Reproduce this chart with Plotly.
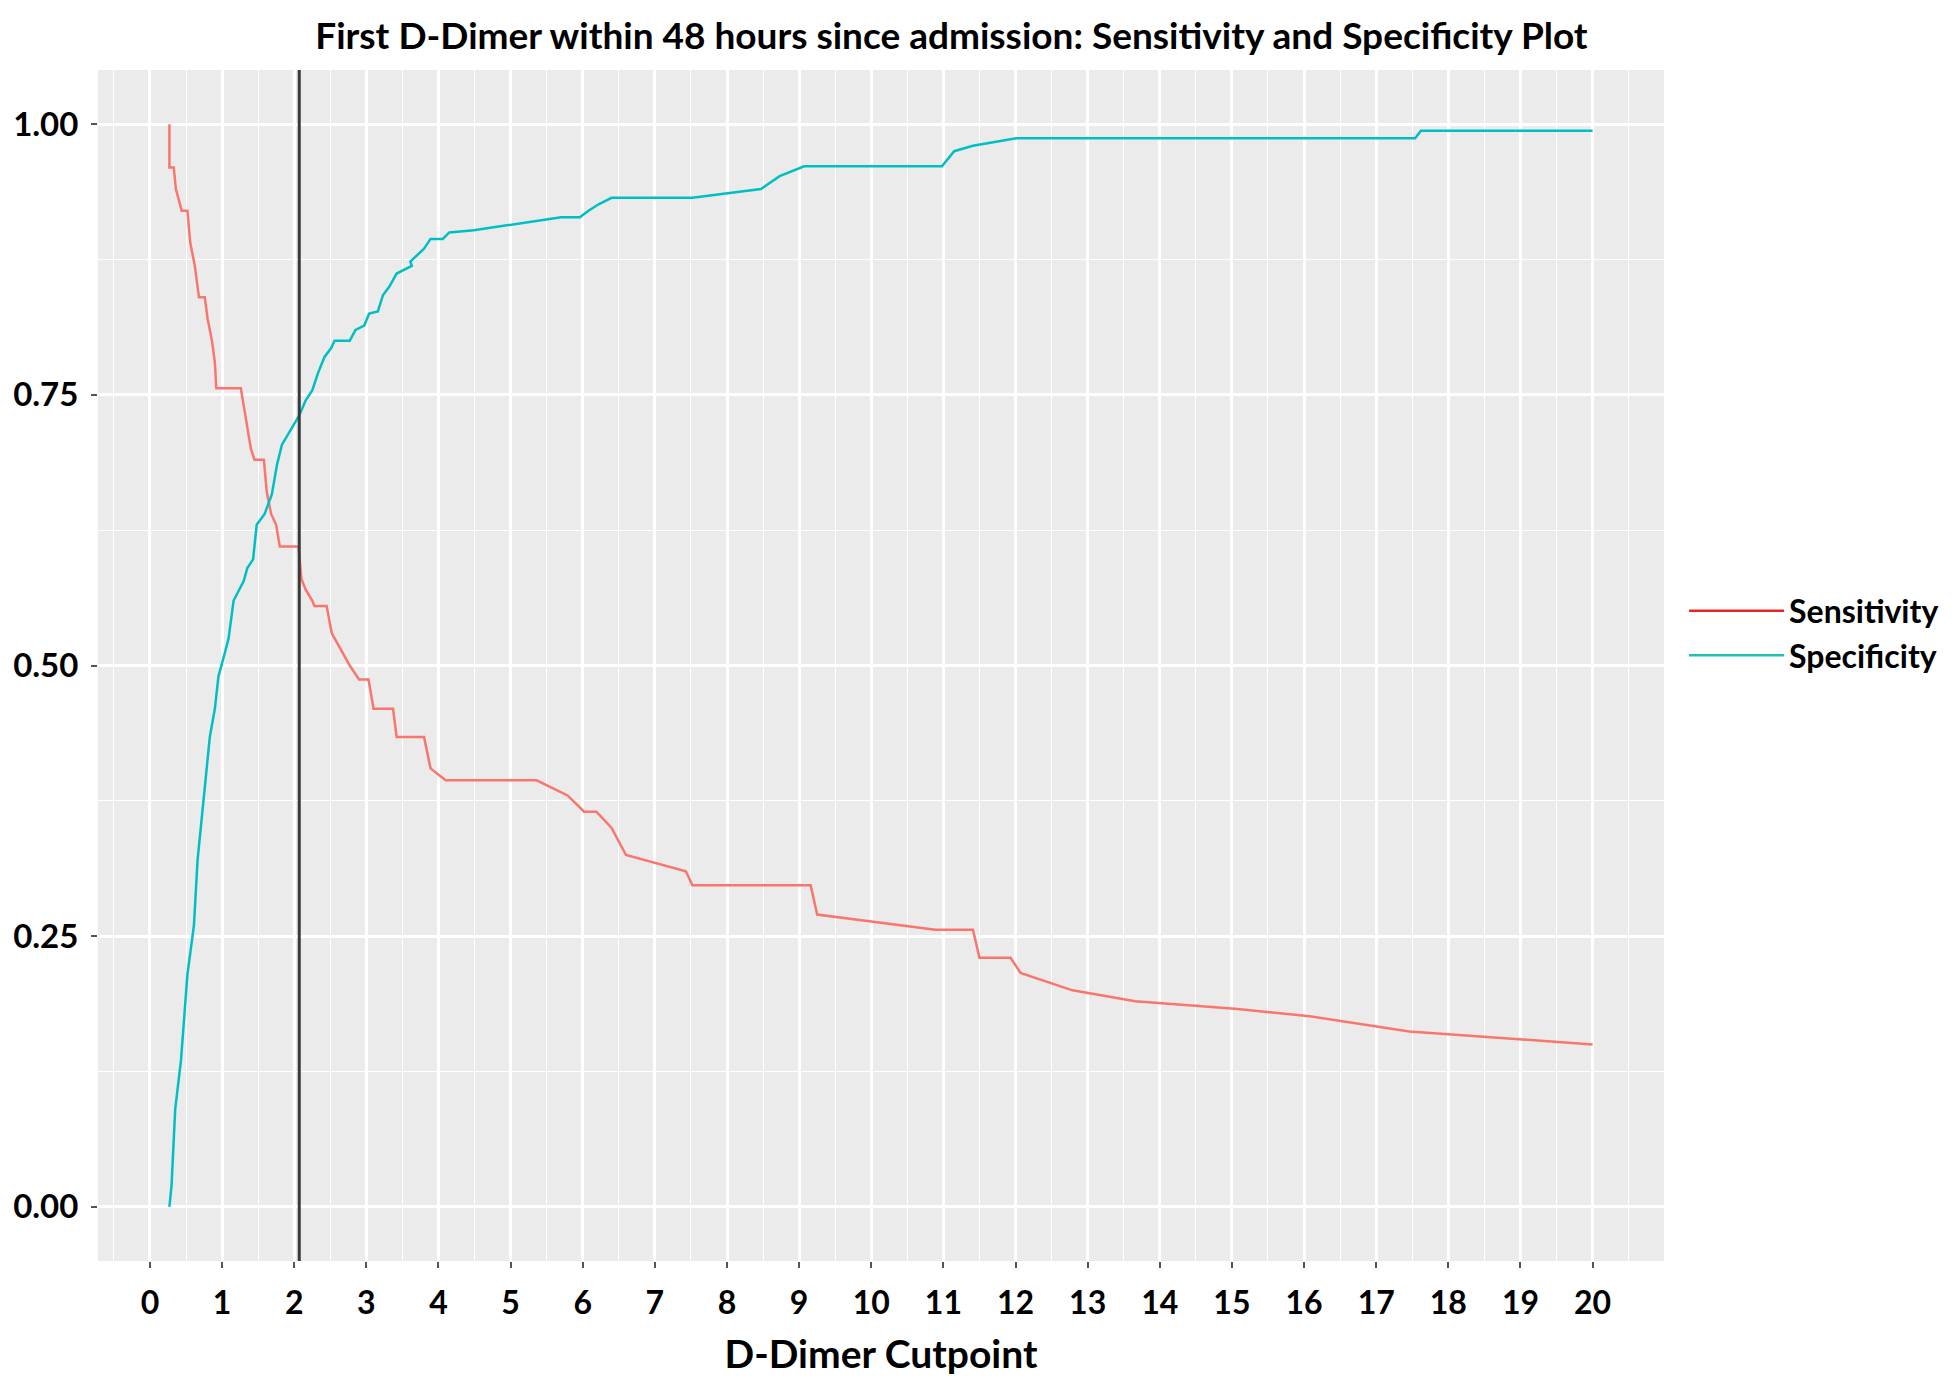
import plotly.graph_objects as go

# values
sens_x = [0.27, 0.27, 0.33, 0.36, 0.40, 0.44, 0.52, 0.56, 0.62, 0.68, 0.76, 0.80, 0.86, 0.90, 0.92,
          1.26, 1.30, 1.35, 1.40, 1.45, 1.58, 1.62, 1.68, 1.75, 1.80, 2.06, 2.10, 2.16, 2.25, 2.28,
          2.45, 2.52, 2.68, 2.77, 2.90, 3.03, 3.10, 3.37, 3.42, 3.80, 3.89, 4.10, 5.36, 5.79, 6.02,
          6.19, 6.40, 6.60, 7.43, 7.52, 9.16, 9.25, 10.89, 11.41, 11.50, 11.93, 12.07, 12.79, 13.66,
          15.04, 16.08, 17.46, 20.0]
sens_y = [1.00, 0.96, 0.96, 0.94, 0.93, 0.92, 0.92, 0.89, 0.87, 0.84, 0.84, 0.82, 0.80, 0.78, 0.756,
          0.756, 0.74, 0.72, 0.70, 0.69, 0.69, 0.66, 0.64, 0.63, 0.61, 0.61, 0.58, 0.57, 0.56, 0.555,
          0.555, 0.53, 0.51, 0.50, 0.487, 0.487, 0.46, 0.46, 0.434, 0.434, 0.405, 0.394, 0.394, 0.38, 0.365,
          0.365, 0.35, 0.325, 0.31, 0.297, 0.297, 0.27, 0.256, 0.256, 0.23, 0.23, 0.216, 0.20, 0.19,
          0.183, 0.176, 0.162, 0.150]

spec_x = [0.27, 0.30, 0.35, 0.43, 0.52, 0.61, 0.66, 0.74, 0.83, 0.90, 0.95, 1.04, 1.09, 1.16, 1.21,
          1.30, 1.35, 1.43, 1.48, 1.59, 1.69, 1.76, 1.83, 1.94, 2.07, 2.16, 2.25, 2.33, 2.42, 2.51,
          2.56, 2.77, 2.85, 2.97, 3.04, 3.16, 3.23, 3.32, 3.42, 3.63, 3.61, 3.80, 3.89, 4.06, 4.15,
          4.49, 5.01, 5.70, 5.96, 6.08, 6.22, 6.40, 7.52, 8.47, 8.73, 9.07, 10.98, 11.15, 11.41, 12.01,
          17.54, 17.62, 20.0]
spec_y = [0.00, 0.02, 0.09, 0.135, 0.215, 0.26, 0.32, 0.376, 0.434, 0.46, 0.49, 0.512, 0.525, 0.56, 0.566,
          0.578, 0.59, 0.598, 0.63, 0.64, 0.658, 0.685, 0.704, 0.716, 0.731, 0.745, 0.754, 0.77, 0.785, 0.793,
          0.80, 0.80, 0.81, 0.814, 0.825, 0.827, 0.842, 0.85, 0.862, 0.869, 0.873, 0.885, 0.894, 0.894, 0.90,
          0.902, 0.907, 0.914, 0.914, 0.92, 0.926, 0.932, 0.932, 0.94, 0.952, 0.961, 0.961, 0.975, 0.98, 0.987,
          0.987, 0.994, 0.994]

cutpoint = 2.07

x_ticks = list(range(0, 21))
y_ticks = [0.0, 0.25, 0.5, 0.75, 1.0]
y_labels = ["0.00", "0.25", "0.50", "0.75", "1.00"]

sens_col = "#F8766D"
spec_col = "#00BFC4"
font = "Lato"

fig = go.Figure()
fig.add_trace(go.Scatter(x=sens_x, y=sens_y, mode="lines", line=dict(color=sens_col, width=2.5),
                         name="Sensitivity", showlegend=False))
fig.add_trace(go.Scatter(x=spec_x, y=spec_y, mode="lines", line=dict(color=spec_col, width=2.5),
                         name="Specificity", showlegend=False))
# legend keys (the reference draws them a bit more saturated)
fig.add_trace(go.Scatter(x=[None], y=[None], mode="lines", line=dict(color="#E8262A", width=2.5),
                         name="<b>Sensitivity</b>"))
fig.add_trace(go.Scatter(x=[None], y=[None], mode="lines", line=dict(color="#1CC2B0", width=2.5),
                         name="<b>Specificity</b>"))

fig.add_vline(x=cutpoint, line=dict(color="#3a3a3a", width=3))

fig.update_layout(
    width=1955, height=1379,
    margin=dict(l=90, r=299, t=62, b=126),
    paper_bgcolor="white", plot_bgcolor="#EBEBEB",
    font=dict(family=font, color="black"),
    title=dict(text="<b>First D-Dimer within 48 hours since admission: Sensitivity and Specificity Plot</b>",
               font=dict(size=37, family=font, color="black"),
               xref="paper", x=0.545, xanchor="center", yref="container", y=0.989, yanchor="top",
               pad=dict(t=0, b=0)),
    legend=dict(x=1.0128, xanchor="left", y=0.527, yanchor="middle",
                font=dict(size=32, family=font, color="black"),
                itemwidth=95, tracegroupgap=2, bgcolor="rgba(0,0,0,0)"),
    showlegend=True,
)

fig.update_xaxes(
    range=[-0.72, 20.99], tickvals=x_ticks, ticktext=[f"<b>{v}</b>" for v in x_ticks],
    tickfont=dict(size=32, color="black"),
    showgrid=True, gridcolor="white", gridwidth=2.5, zeroline=False,
    minor=dict(dtick=0.5, tick0=0, showgrid=True, gridcolor="white", gridwidth=1.2),
    ticks="outside", ticklen=6, tickwidth=2, tickcolor="#555", ticklabelstandoff=8,
    title=dict(text="<b>D-Dimer Cutpoint</b>", font=dict(size=39, color="black"), standoff=20),
    showline=False, automargin=False,
)
fig.update_yaxes(
    range=[-0.05, 1.05], tickvals=y_ticks, ticktext=[f"<b>{t}</b>" for t in y_labels],
    tickfont=dict(size=33, color="black"),
    showgrid=True, gridcolor="white", gridwidth=2.5, zeroline=False,
    minor=dict(dtick=0.125, tick0=0, showgrid=True, gridcolor="white", gridwidth=1.2),
    ticks="outside", ticklen=6, tickwidth=2, tickcolor="#555", ticklabelstandoff=6,
    showline=False, automargin=False,
)

fig.write_html("out.html")
